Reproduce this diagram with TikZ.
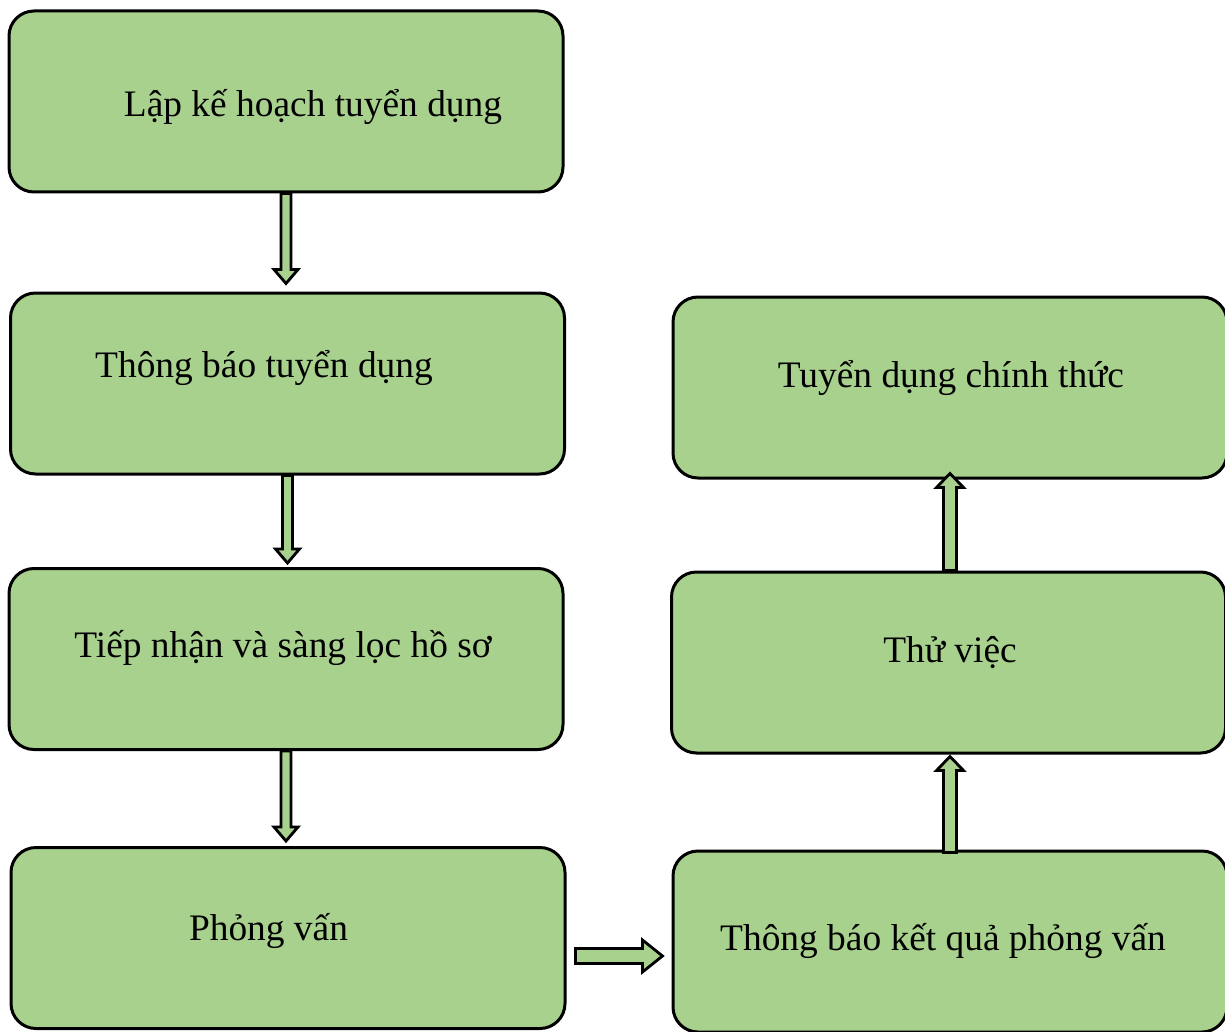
\documentclass[tikz,border=0pt]{standalone}
\usepackage{fontspec}
\setmainfont{Liberation Serif}
\definecolor{boxgreen}{HTML}{A9D18E}
\usetikzlibrary{calc}

\begin{document}
\begin{tikzpicture}[x=0.5pt, y=-0.5pt,
  every node/.style={font=\fontsize{18.7}{22}\selectfont},
  box/.style={rectangle, rounded corners=12.5pt, draw=black, line width=1.5pt,
              fill=boxgreen, minimum width=277pt, minimum height=90.5pt,
              inner sep=0pt},
  txt/.style={anchor=base, inner sep=0pt},
  blockarr/.style n args={3}{draw=black, line width=1.4pt, fill=boxgreen,
    to path={(\tikztostart) coordinate (bs) (\tikztotarget) coordinate (bt)
      ($(bt)!#3!(bs)$) coordinate (hb)
      ($(bs)!#1!90:(bt)$) -- ($(hb)!#1!-90:(bs)$) -- ($(hb)!#2!-90:(bs)$)
      -- (bt) -- ($(hb)!#2!90:(bs)$) -- ($(hb)!#1!90:(bs)$)
      -- ($(bs)!#1!-90:(bt)$) -- cycle}}
]
  \useasboundingbox (0,0) rectangle (1225,1032);

  % left column
  \node[box] (plan)      at (286,101.5) {};
  \node[box] (notice)    at (287.5,383.5) {};
  \node[box] (screen)    at (286,659) {};
  \node[box] (interview) at (288,938) {};
  % right column
  \node[box] (result)    at (950,941.5) {};
  \node[box] (trial)     at (948.5,662.5) {};
  \node[box] (hire)      at (950,387.5) {};

  \node[txt] (plantxt)      at (313,117)   {Lập kế hoạch tuyển dụng};
  \node[txt] (noticetxt)    at (264,377)   {Thông báo tuyển dụng};
  \node[txt] (screentxt)    at (283,657)   {Tiếp nhận và sàng lọc hồ sơ};
  \node[txt] (interviewtxt) at (268.5,940) {Phỏng vấn};
  \node[txt] (resulttxt)    at (943,950)   {Thông báo kết quả phỏng vấn};
  \node[txt] (trialtxt)     at (950,662)   {Thử việc};
  \node[txt] (hiretxt)      at (951,387)   {Tuyển dụng chính thức};

  \draw[blockarr={2.5pt}{6pt}{7pt}] (plan.south)
    to ($(plan.south |- notice.north)+(0pt,4pt)$);
  \draw[blockarr={2.5pt}{6pt}{7pt}] (notice.south)
    to ($(notice.south |- screen.north)+(0pt,2pt)$);
  \draw[blockarr={2.5pt}{6pt}{7pt}] (screen.south)
    to ($(screen.south |- interview.north)+(0pt,2.5pt)$);
  \draw[blockarr={3.75pt}{8pt}{10pt}] ($(interview.east)+(4.5pt,-9pt)$)
    to ($(interview.east -| result.west)+(-4.5pt,-9pt)$);
  \draw[blockarr={3.25pt}{6.75pt}{7pt}] ($(result.north)+(0pt,-1.5pt)$)
    to ($(result.north |- trial.south)+(0pt,-1pt)$);
  \draw[blockarr={3.25pt}{6.75pt}{7pt}] (result.north |- trial.north)
    to ($(result.north |- hire.south)+(0pt,3pt)$);
\end{tikzpicture}
\end{document}
